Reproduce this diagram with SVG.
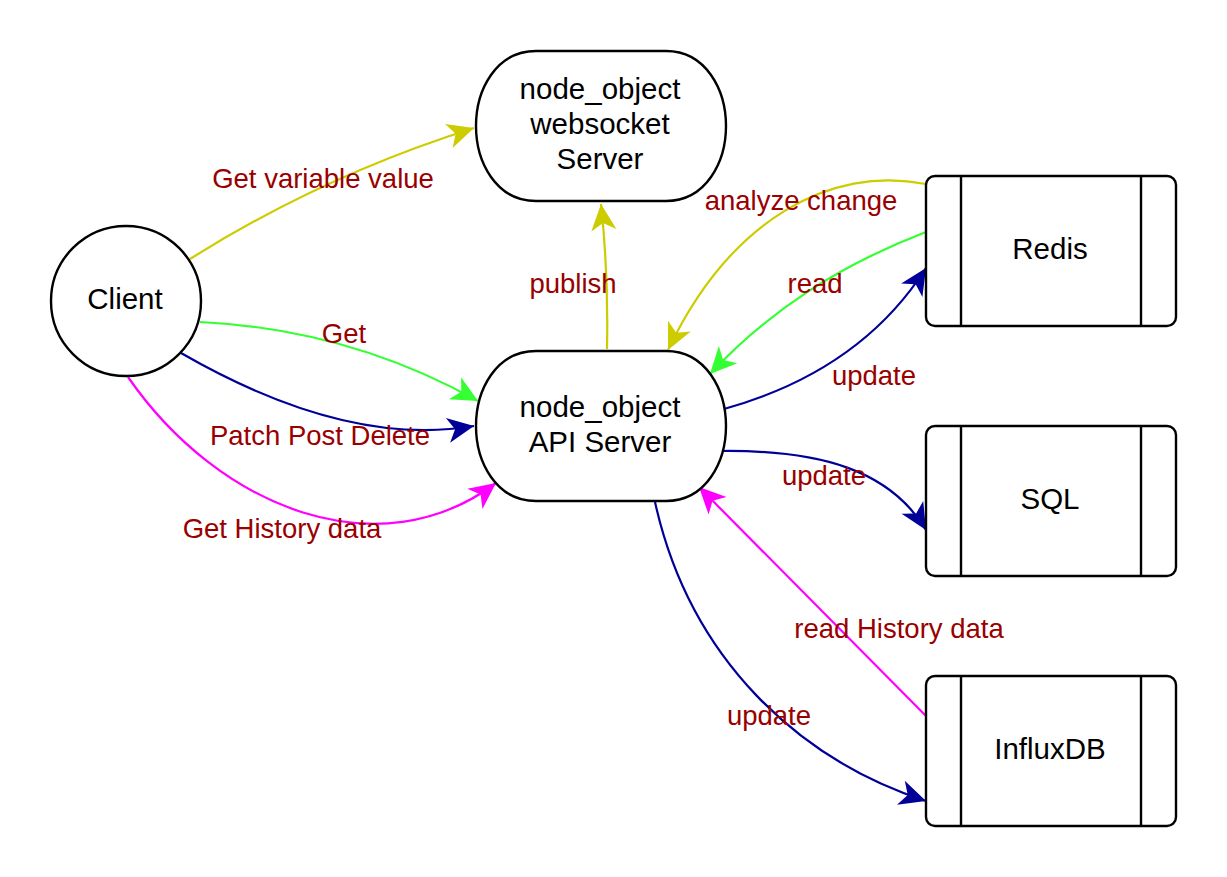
<svg xmlns="http://www.w3.org/2000/svg" width="1227" height="877" viewBox="0 0 1227 877">
<style>
.node{fill:#fff;stroke:#000;stroke-width:2.4}
.nt{font-family:"Liberation Sans",Arial,sans-serif;font-size:29.5px;fill:#000;text-anchor:middle}
.lt{font-family:"Liberation Sans",Arial,sans-serif;font-size:27.5px;fill:#990000;text-anchor:middle}
.e{fill:none;stroke-width:2.2}
.y{stroke:#CCCC00}.g{stroke:#33FF33}.b{stroke:#000099}.m{stroke:#FF00FF}
</style>
<defs>
<marker id="ay" markerUnits="userSpaceOnUse" markerWidth="30" markerHeight="30" viewBox="-23 -12 25 24" refX="0" refY="0" orient="auto"><path d="M0,0 L-22,-10.5 L-16,0 L-22,10.5 Z" fill="#CCCC00"/></marker>
<marker id="ag" markerUnits="userSpaceOnUse" markerWidth="30" markerHeight="30" viewBox="-23 -12 25 24" refX="0" refY="0" orient="auto"><path d="M0,0 L-22,-10.5 L-16,0 L-22,10.5 Z" fill="#33FF33"/></marker>
<marker id="ab" markerUnits="userSpaceOnUse" markerWidth="30" markerHeight="30" viewBox="-23 -12 25 24" refX="0" refY="0" orient="auto"><path d="M0,0 L-22,-10.5 L-16,0 L-22,10.5 Z" fill="#000099"/></marker>
<marker id="am" markerUnits="userSpaceOnUse" markerWidth="30" markerHeight="30" viewBox="-23 -12 25 24" refX="0" refY="0" orient="auto"><path d="M0,0 L-22,-10.5 L-16,0 L-22,10.5 Z" fill="#FF00FF"/></marker>
</defs>
<rect width="1227" height="877" fill="#fff"/>
<g id="connectors">
<path class="e y" d="M190,259 Q322,176 474,128" marker-end="url(#ay)"/>
<path class="e g" d="M200,322 Q349,329 478,401" marker-end="url(#ag)"/>
<path class="e b" d="M181,353 C280,410 380,442 474,426" marker-end="url(#ab)"/>
<path class="e m" d="M128,377 C220,510 380,570 496,483" marker-end="url(#am)"/>
<path class="e y" d="M607,349 C608,300 606,250 601,204" marker-end="url(#ay)"/>
<path class="e y" d="M926,184 C830,165 730,220 668,350" marker-end="url(#ay)"/>
<path class="e g" d="M926,232 C840,265 770,310 710,374" marker-end="url(#ag)"/>
<path class="e b" d="M724,409 C810,385 880,340 926,268" marker-end="url(#ab)"/>
<path class="e b" d="M722,451 C820,450 890,470 926,530" marker-end="url(#ab)"/>
<path class="e b" d="M655,502 C690,660 800,760 926,801" marker-end="url(#ab)"/>
<path class="e m" d="M926,716 L699,487" marker-end="url(#am)"/>
<text class="lt" x="323" y="188">Get variable value</text>
<text class="lt" x="801" y="210">analyze change</text>
<text class="lt" x="573" y="293">publish</text>
<text class="lt" x="815" y="293">read</text>
<text class="lt" x="344" y="343">Get</text>
<text class="lt" x="874" y="385">update</text>
<text class="lt" x="320" y="445">Patch Post Delete</text>
<text class="lt" x="824" y="485">update</text>
<text class="lt" x="282" y="538">Get History data</text>
<text class="lt" x="899" y="638">read History data</text>
<text class="lt" x="769" y="725">update</text>
</g>
<g id="client">
<circle class="node" cx="126" cy="301" r="75"/>
<text class="nt" x="125" y="309">Client</text>
</g>
<g id="websocket">
<path class="node" d="M536,51 L666,51 C706,51 726,90 726,126 C726,162 706,201 666,201 L536,201 C496,201 476,162 476,126 C476,90 496,51 536,51 Z"/>
<text class="nt" x="600" y="99">node_object</text>
<text class="nt" x="600" y="134">websocket</text>
<text class="nt" x="600" y="169">Server</text>
</g>
<g id="api">
<path class="node" d="M536,351 L666,351 C706,351 726,390 726,426 C726,462 706,501 666,501 L536,501 C496,501 476,462 476,426 C476,390 496,351 536,351 Z"/>
<text class="nt" x="600" y="417">node_object</text>
<text class="nt" x="600" y="452">API Server</text>
</g>
<g id="redis">
<rect class="node" x="926" y="176" width="250" height="150" rx="9"/>
<line class="node" x1="961" y1="176" x2="961" y2="326"/>
<line class="node" x1="1141" y1="176" x2="1141" y2="326"/>
<text class="nt" x="1050" y="259">Redis</text>
</g>
<g id="sql">
<rect class="node" x="926" y="426" width="250" height="150" rx="9"/>
<line class="node" x1="961" y1="426" x2="961" y2="576"/>
<line class="node" x1="1141" y1="426" x2="1141" y2="576"/>
<text class="nt" x="1050" y="509">SQL</text>
</g>
<g id="influxdb">
<rect class="node" x="926" y="676" width="250" height="150" rx="9"/>
<line class="node" x1="961" y1="676" x2="961" y2="826"/>
<line class="node" x1="1141" y1="676" x2="1141" y2="826"/>
<text class="nt" x="1050" y="759">InfluxDB</text>
</g>
</svg>
